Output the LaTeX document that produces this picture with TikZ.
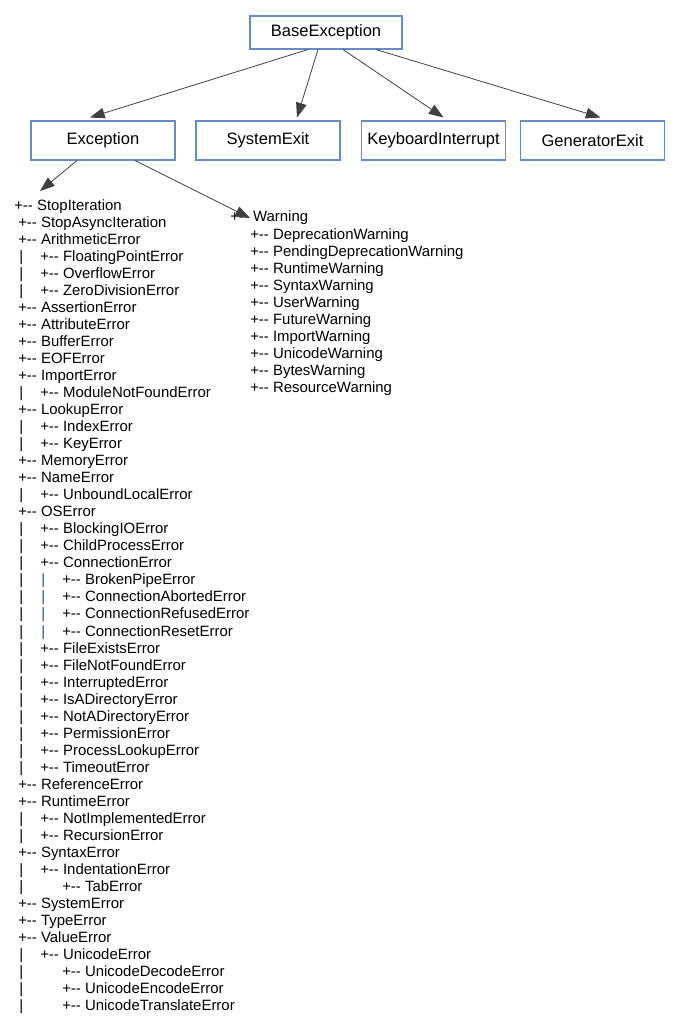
\documentclass[tikz,border=0pt]{standalone}
\usepackage{fontspec}
\setmainfont{Liberation Sans}
\usetikzlibrary{arrows.meta, calc}
\definecolor{boxblue}{RGB}{100,140,200}
\definecolor{barblue}{RGB}{40,80,150}
\tikzset{exbox/.style={draw=boxblue, line width=0.8pt, inner sep=0pt, minimum width=108pt, minimum height=29.25pt, font=\fontsize{12.4}{14}\selectfont},
  entry/.style={anchor=base west, inner sep=0pt, font=\fontsize{11.2}{13}\selectfont},
  arr/.style={-{Triangle[length=11pt,width=8pt]}, draw=black!75, line width=0.6pt}}

\begin{document}
\begin{tikzpicture}[x=0.75pt, y=-0.75pt]
  \useasboundingbox (0,0) rectangle (697,1024);
  % top level boxes
  \node[exbox, minimum width=114pt, minimum height=24.75pt] (base) at (326,32.5) {BaseException};
  \node[exbox] (exc) at (103,140.5) {Exception};
  \node[exbox] (sysexit) at (268,140.5) {SystemExit};
  \node[exbox] (kbint) at (433.5,140.5) {KeyboardInterrupt};
  \node[exbox] (genexit) at (592.5,140.5) {GeneratorExit};

  % exception tree, one line per class
  \foreach \lvl/\name [count=\i] in {1/StopIteration, 1/StopAsyncIteration, 1/ArithmeticError,
      2/FloatingPointError, 2/OverflowError, 2/ZeroDivisionError, 1/AssertionError,
      1/AttributeError, 1/BufferError, 1/EOFError, 1/ImportError, 2/ModuleNotFoundError,
      1/LookupError, 2/IndexError, 2/KeyError, 1/MemoryError, 1/NameError,
      2/UnboundLocalError, 1/OSError, 2/BlockingIOError, 2/ChildProcessError,
      2/ConnectionError, 3/BrokenPipeError, 3/ConnectionAbortedError,
      3/ConnectionRefusedError, 3/ConnectionResetError, 2/FileExistsError,
      2/FileNotFoundError, 2/InterruptedError, 2/IsADirectoryError, 2/NotADirectoryError,
      2/PermissionError, 2/ProcessLookupError, 2/TimeoutError, 1/ReferenceError,
      1/RuntimeError, 2/NotImplementedError, 2/RecursionError, 1/SyntaxError,
      2/IndentationError, 3/TabError, 1/SystemError, 1/TypeError, 1/ValueError,
      2/UnicodeError, 3/UnicodeDecodeError, 3/UnicodeEncodeError, 3/UnicodeTranslateError}
  {
    \pgfmathsetmacro\ex{\i==1 ? 14 : 18+22*(\lvl-1)}
    \node[entry] (e\i) at (\ex, {210+17.04*(\i-1)}) {+-{}- \name};
    \ifnum\lvl>1 \node[entry] (bar\i) at (19, {210+17.04*(\i-1)}) {|};\fi
  }
  \foreach \i in {23,...,26}
    \node[entry, text=barblue] (cbar\i) at (41, {210+17.04*(\i-1)}) {|};

  % warnings
  \node[entry] (w0) at (230,221) {+-{}- Warning};
  \foreach \name [count=\j] in {DeprecationWarning, PendingDeprecationWarning,
      RuntimeWarning, SyntaxWarning, UserWarning, FutureWarning, ImportWarning,
      UnicodeWarning, BytesWarning, ResourceWarning}
    \node[entry] (w\j) at (250, {239+17*(\j-1)}) {+-{}- \name};

  \draw[arr] ($(base.south)+(-18,0)$) -- ($(exc.north)+(-13,-3)$);
  \draw[arr] ($(base.south)+(-8,0)$) -- ($(sysexit.north)+(29,-3)$);
  \draw[arr] ($(base.south)+(17,0)$) -- ($(kbint.north)+(10,-3)$);
  \draw[arr] ($(base.south)+(50,0)$) -- ($(genexit.north)+(8,-3)$);
  \draw[arr] ($(exc.south)+(-26,0)$) -- ($(e1.base west)+(26,-19)$);
  \draw[arr] ($(exc.south)+(32,0)$) -- ($(w0.base west)+(20,-3)$);
\end{tikzpicture}
\end{document}
